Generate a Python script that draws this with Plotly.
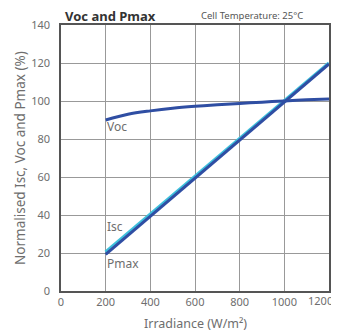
import plotly.graph_objects as go

irradiance = [200, 300, 400, 500, 600, 700, 800, 900, 1000, 1100, 1200]
voc = [90.0, 93.0, 94.8, 96.2, 97.2, 98.0, 98.7, 99.4, 100.0, 100.6, 101.1]
isc_x = [200, 1200]
isc = [20.5, 120.0]
pmax_x = [200, 1200]
pmax = [19.3, 119.5]
x_tick_vals = [0, 200, 400, 600, 800, 1000, 1200]
x_tick_text = ["0", "200", "400", "600", "800", "1000", "1200"]
y_tick_vals = [0, 20, 40, 60, 80, 100, 120, 140]

dark = "#2f4ea3"
light = "#3ec0dc"
grid = "#999999"
txt = "#6e6e6e"
font_family = "Noto Sans, Open Sans, sans-serif"

# page has an 8px body margin; figure coordinates are offset accordingly
OFF = 8
W, H = 331, 323
L, T = 61 - OFF, 25 - OFF
R = W - (329 - OFF)
B = H - (291 - OFF)
pw, ph = W - L - R, H - T - B

fig = go.Figure()
fig.add_trace(go.Scatter(x=isc_x, y=isc, mode="lines", line=dict(color=light, width=3.5), showlegend=False))
fig.add_trace(go.Scatter(x=pmax_x, y=pmax, mode="lines", line=dict(color=dark, width=3), showlegend=False))
fig.add_trace(go.Scatter(x=irradiance, y=voc, mode="lines", line=dict(color=dark, width=3, shape="spline"), showlegend=False))

labels = [("Voc", 205, 86.5), ("Isc", 205, 34), ("Pmax", 205, 14.6)]
for t, x, y in labels:
    fig.add_annotation(x=x, y=y, text=t, showarrow=False, xanchor="left", yanchor="middle",
                       xshift=-2, font=dict(family=font_family, size=12, color=txt))

top = 1 + T / ph
fig.add_annotation(xref="paper", yref="paper", x=(63 - 61) / pw, y=top, yshift=3,
                   text="<b>Voc and Pmax</b>", showarrow=False, xanchor="left", yanchor="top",
                   font=dict(family=font_family, size=13, color="#333333"))
fig.add_annotation(xref="paper", yref="paper", x=(199 - 61) / pw, y=top, yshift=1,
                   text="Cell Temperature: 25°C", showarrow=False, xanchor="left", yanchor="top",
                   font=dict(family=font_family, size=9.5, color="#555555"))

# axis titles
fig.add_annotation(xref="paper", yref="paper", x=(20 - 61) / pw, y=0.5, textangle=-90,
                   text="Normalised Isc, Voc and Pmax (%)", showarrow=False,
                   xanchor="center", yanchor="middle", font=dict(family=font_family, size=13.5, color=txt))
fig.add_annotation(xref="paper", yref="paper", x=0.5, y=-(323 - 291) / ph,
                   text="Irradiance (W/m²)", showarrow=False,
                   xanchor="center", yanchor="middle", font=dict(family=font_family, size=12.5, color=txt))

# last x tick label kept inside the page edge
fig.add_annotation(xref="paper", yref="paper", x=1 + R / pw, y=-(300 - 291) / ph,
                   text=x_tick_text[-1], showarrow=False, xanchor="right", yanchor="middle",
                   xshift=-4, font=dict(family=font_family, size=11, color=txt))

fig.update_layout(
    width=W, height=H,
    margin=dict(l=L, r=R, t=T, b=B),
    paper_bgcolor="white", plot_bgcolor="white",
    font=dict(family=font_family, color=txt),
    xaxis=dict(range=[0, 1200], tickvals=x_tick_vals, ticktext=x_tick_text[:-1] + [""], showgrid=True,
               gridcolor=grid, gridwidth=1, showline=True, linecolor="#555555", linewidth=1.5,
               mirror=True, zeroline=False, tickfont=dict(size=11, color=txt), ticks="",
               ticklabelstandoff=0, automargin=False),
    yaxis=dict(range=[0, 140], tickvals=y_tick_vals, showgrid=True,
               gridcolor=grid, gridwidth=1, showline=True, linecolor="#555555", linewidth=1.5,
               mirror=True, zeroline=False, tickfont=dict(size=11, color=txt), ticks="",
               ticklabelstandoff=7, automargin=False),
)

fig.write_html("out.html")
